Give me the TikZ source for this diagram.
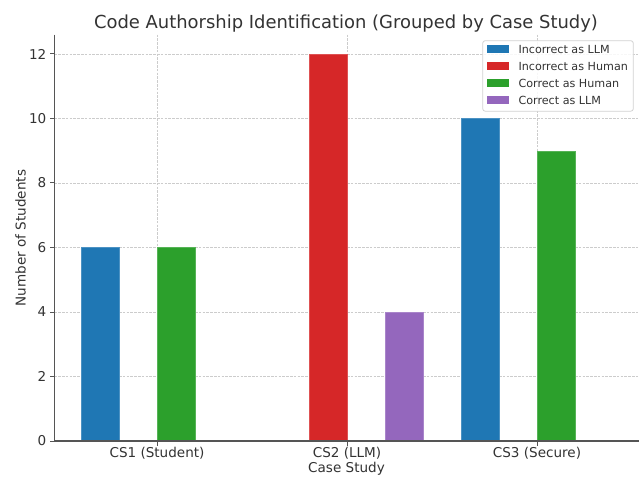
\documentclass[tikz,border=0pt]{standalone}
\usepackage{fontspec}
\setmainfont{DejaVu Sans}
\definecolor{cblue}{HTML}{1F77B4}
\definecolor{cred}{HTML}{D62728}
\definecolor{cgreen}{HTML}{2CA02C}
\definecolor{cpurple}{HTML}{9467BD}
\definecolor{txt}{HTML}{333333}
\definecolor{spine}{HTML}{555555}
\definecolor{gridc}{HTML}{CCCCCC}
\begin{document}
\begin{tikzpicture}[x=1bp,y=-1bp,
  gridline/.style={gridc,line width=0.6bp,dash pattern=on 2.6bp off 1.2bp},
  bar/.style={fill=#1,draw=#1!80!white,line width=0.4bp},
  ticklab/.style={text=txt,font=\fontsize{13.6}{15}\selectfont,inner sep=0pt},
  legtext/.style={text=txt,font=\fontsize{11.2}{12}\selectfont,inner sep=0pt,anchor=west},
  legpatch/.style={fill=#1,minimum width=22bp,minimum height=7.8bp,inner sep=0pt,anchor=west}]
\useasboundingbox (0,0) rectangle (639,477);
\fill[white] (0,0) rectangle (639,477);
% grid
\foreach \v in {2,4,...,12}{
  \draw[gridline] (54.4,{441-\v*32.25}) -- (639,{441-\v*32.25});
}
\foreach \xx in {157,347,537}{
  \draw[gridline] (\xx,34.6) -- (\xx,441);
}
% bars
\draw[bar=cblue]   (81,441) rectangle (119,{441-6*32.25});
\draw[bar=cgreen]  (157,441) rectangle (195,{441-6*32.25});
\draw[bar=cred]    (309,441) rectangle (347,{441-12*32.25});
\draw[bar=cpurple] (385,441) rectangle (423,{441-4*32.25});
\draw[bar=cblue]   (461,441) rectangle (499,{441-10*32.25});
\draw[bar=cgreen]  (537,441) rectangle (575,{441-9*32.25});
% spines
\draw[spine,line width=1.1bp] (54.4,34.6) -- (54.4,441) -- (639,441);
% y ticks
\foreach \v in {0,2,...,12}{
  \draw[spine,line width=1bp] (54.4,{441-\v*32.25}) -- (49.5,{441-\v*32.25});
  \node[ticklab,anchor=east] (yt\v) at (46.5,{441-\v*32.25}) {\v};
}
% x ticks
\foreach \xx/\lab/\nm in {157/CS1 (Student)/a,347/CS2 (LLM)/b,537/CS3 (Secure)/c}{
  \draw[spine,line width=1bp] (\xx,441) -- (\xx,445.9);
  \node[ticklab,anchor=base] (xt\nm) at (\xx,457.3) {\lab};
}
% axis labels
\node[ticklab,anchor=base] (xlab) at (346.5,472.5) {Case Study};
\node[ticklab,anchor=base,rotate=90] (ylab) at (25.5,238) {Number of Students};
% title
\node[text=txt,font=\fontsize{18.0}{21}\selectfont,inner sep=0pt,anchor=base] (title) at (346,28.2) {Code Authorship Identification (Grouped by Case Study)};
% legend
\draw[rounded corners=2.5bp,draw=gray!35,fill=white,fill opacity=0.85,line width=0.8bp] (482.7,40.7) rectangle (633.3,111.2);
\node[legpatch=cblue]   (p1) at (486.8,49.3) {};
\node[legpatch=cred]    (p2) at (486.8,66.2) {};
\node[legpatch=cgreen]  (p3) at (486.8,83.1) {};
\node[legpatch=cpurple] (p4) at (486.8,100.0) {};
\node[legtext] (l1) at (518.3,49.3) {Incorrect as LLM};
\node[legtext] (l2) at (518.3,66.2) {Incorrect as Human};
\node[legtext] (l3) at (518.3,83.1) {Correct as Human};
\node[legtext] (l4) at (518.3,100.0) {Correct as LLM};
\end{tikzpicture}
\end{document}
